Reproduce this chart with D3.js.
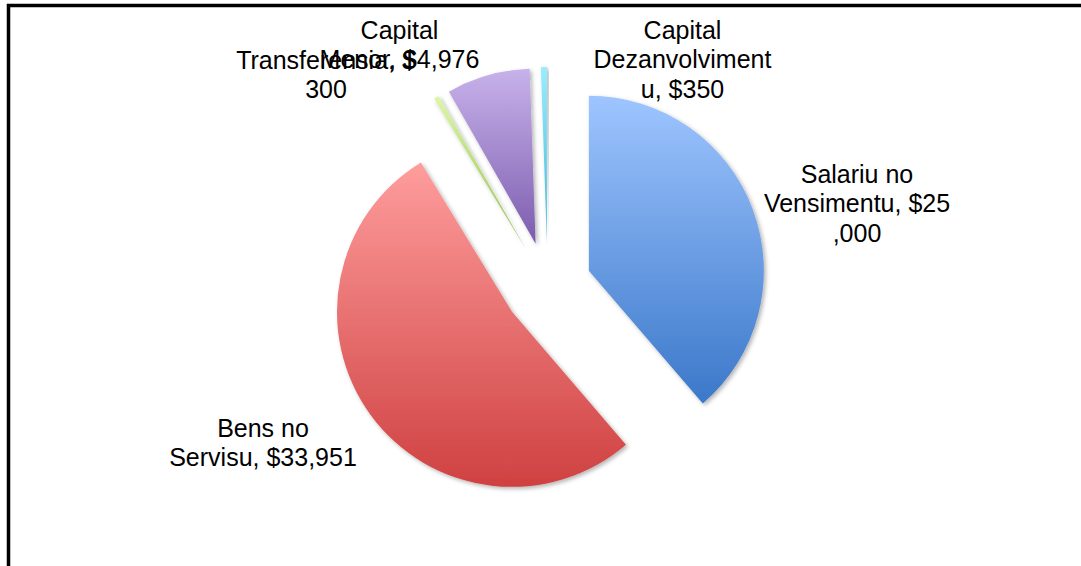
<!DOCTYPE html>
<html>
<head>
<meta charset="utf-8">
<script src="https://cdn.jsdelivr.net/npm/d3@7"></script>
<style>
	body { margin: 0; background: #fff; }
	svg { display: block; }
</style>
</head>
<body>
<div class="pie-chart"></div>
<script>
// Budget categories (Tetum) and their amounts in dollars
var categories = ['Salariu no Vensimentu', 'Bens no Servisu', 'Transferensia', 'Capital Menor', 'Capital Dezanvolvimentu'];
var amounts = [25000, 33951, 300, 4976, 350];
// label text, wrapped the way the original chart wraps it
var labelLines = [
	['Salariu no', 'Vensimentu, $25', ',000'],
	['Bens no', 'Servisu, $33,951'],
	['Transferensia, $', '300'],
	['Capital', 'Menor, $4,976'],
	['Capital', 'Dezanvolviment', 'u, $350']
];

var topColors = ['#9ec5ff', '#ff9d9d', '#dcf7a8', '#c7b2ea', '#98edff'],
	bottomColors = ['#3b78c9', '#cf4141', '#93bd48', '#7c5cae', '#3fb5d6'];

var width = 1081,
	height = 566,
	cx = 547.6,
	cy = 286,
	radius = 175,
	explode = 44,
	fontSize = '25px',
	lineHeight = 29.3;

// where each label's first baseline sits (centred text)
var labelPos = [[857, 183], [263, 437], [326, 69], [399.5, 39], [682.5, 39]];

var svg = d3.select('.pie-chart').append('svg')
	.attr('width', width)
	.attr('height', height)
	.attr('font-family', 'Liberation Sans, Arial, sans-serif');

var defs = svg.append('defs');
var shadow = defs.append('filter')
	.attr('id', 'shadow')
	.attr('x', '-20%').attr('y', '-20%')
	.attr('width', '140%').attr('height', '140%');
shadow.append('feDropShadow')
	.attr('dx', 2).attr('dy', 2)
	.attr('stdDeviation', 2)
	.attr('flood-color', '#000')
	.attr('flood-opacity', 0.3);

categories.forEach(function(c, i) {
	var g = defs.append('linearGradient')
		.attr('id', 'grad' + i)
		.attr('x1', 0).attr('y1', 0)
		.attr('x2', 0).attr('y2', 1);
	g.append('stop').attr('offset', '0%').attr('stop-color', topColors[i]);
	g.append('stop').attr('offset', '100%').attr('stop-color', bottomColors[i]);
});

// frame, cut off at the right and bottom like the original
svg.append('rect')
	.attr('x', 8.5)
	.attr('y', 5.5)
	.attr('width', 1100)
	.attr('height', 600)
	.attr('fill', 'none')
	.attr('stroke', '#000')
	.attr('stroke-width', 3.5);

var pie = d3.pie().sort(null)(amounts);
var arc = d3.arc().innerRadius(0).outerRadius(radius);

svg.append('g')
	.attr('transform', 'translate(' + cx + ',' + cy + ')')
	.selectAll('path')
	.data(pie)
	.enter().append('path')
		.attr('d', arc)
		.attr('transform', function(d) {
			var a = (d.startAngle + d.endAngle) / 2;
			return 'translate(' + (explode * Math.sin(a)) + ',' + (-explode * Math.cos(a)) + ')';
		})
		.attr('fill', function(d, i) { return 'url(#grad' + i + ')'; })
		.attr('filter', 'url(#shadow)');

// data labels
var labels = svg.append('g')
	.attr('font-size', fontSize)
	.attr('fill', '#000')
	.attr('text-anchor', 'middle');
pie.forEach(function(d, i) {
	var t = labels.append('text')
		.attr('x', labelPos[i][0])
		.attr('y', labelPos[i][1]);
	labelLines[i].forEach(function(line, j) {
		t.append('tspan')
			.attr('x', labelPos[i][0])
			.attr('y', labelPos[i][1] + j * lineHeight)
			.text(line);
	});
});
</script>
</body>
</html>
